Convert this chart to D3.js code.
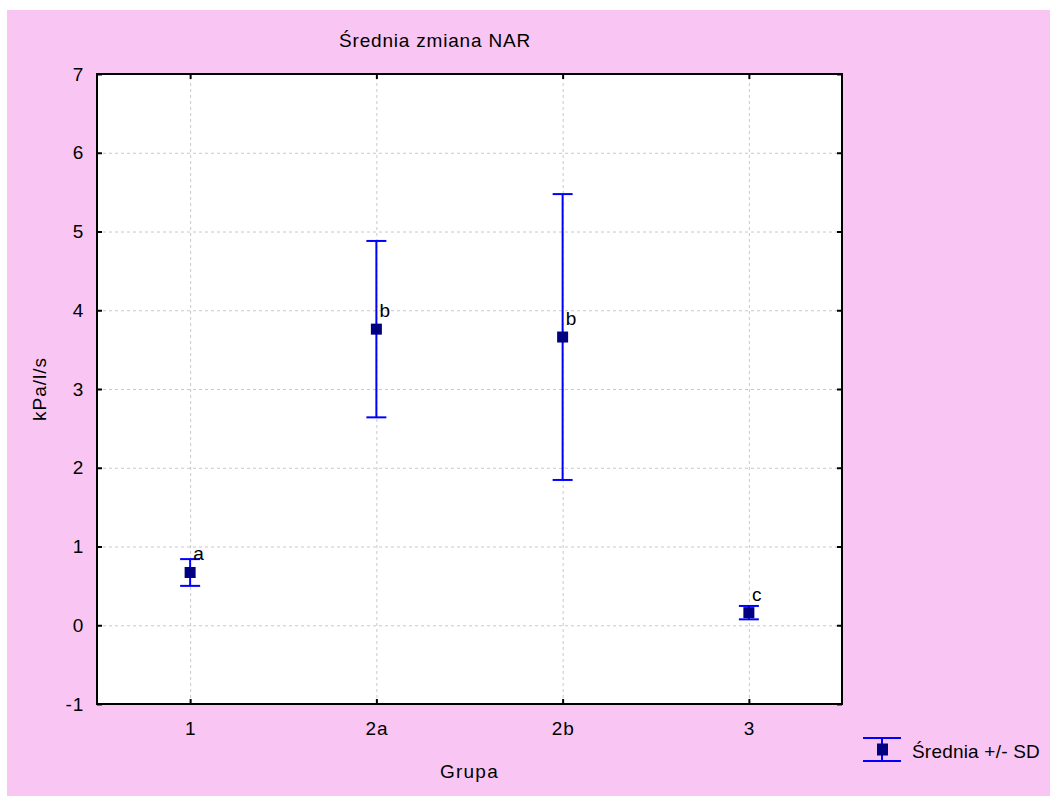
<!DOCTYPE html>
<html>
<head>
<meta charset="utf-8">
<script src="https://cdn.jsdelivr.net/npm/d3@7"></script>
<style>
  html, body { margin: 0; padding: 0; background: #ffffff; }
  svg { display: block; }
  text { font-family: "Liberation Sans", Arial, sans-serif; fill: #000; }
</style>
</head>
<body>
<svg id="chart" width="1050" height="796"></svg>
<script>
// Groups, means and standard deviations of the NAR change
const groups = ["1", "2a", "2b", "3"];
const means = [0.67, 3.76, 3.66, 0.16];
const sds = [0.17, 1.12, 1.815, 0.085];
const letters = ["a", "b", "b", "c"];
const yTicks = [-1, 0, 1, 2, 3, 4, 5, 6, 7];

const titleText = "Średnia zmiana NAR";
const xLabel = "Grupa";
const yLabel = "kPa/l/s";
const legendText = "Średnia +/- SD";

const W = 1050, H = 796;
const plot = { left: 97, top: 74, right: 842, bottom: 704 };
const FONT = 19, SPACING = "0.8px";
const bg = "#f9c6f4";
const barColor = "#0000ff";
const markColor = "#000080";
const gridColor = "#c8c8c8";

const svg = d3.select("#chart");

// Page background
svg.append("rect").attr("x", 7).attr("y", 10)
  .attr("width", W - 7).attr("height", H - 10).attr("fill", bg);

// Plot area
svg.append("rect").attr("x", plot.left).attr("y", plot.top)
  .attr("width", plot.right - plot.left).attr("height", plot.bottom - plot.top)
  .attr("fill", "#ffffff");

const x = d3.scalePoint().domain(groups).range([plot.left, plot.right]).padding(0.5);
const y = d3.scaleLinear().domain([-1, 7]).range([plot.bottom, plot.top]);

// Dashed grid
const grid = svg.append("g");
grid.append("g").attr("transform", `translate(${plot.left},0)`)
  .call(d3.axisLeft(y).tickValues(yTicks).tickSize(-(plot.right - plot.left)).tickFormat(""))
  .call(g => g.select(".domain").remove())
  .call(g => g.selectAll("line").attr("stroke", gridColor).attr("stroke-dasharray", "3,3"));
grid.append("g").attr("transform", `translate(0,${plot.bottom})`)
  .call(d3.axisBottom(x).tickSize(-(plot.bottom - plot.top)).tickFormat(""))
  .call(g => g.select(".domain").remove())
  .call(g => g.selectAll("line").attr("stroke", gridColor).attr("stroke-dasharray", "3,3"));

// Axes with inward ticks
function styleAxis(g) {
  g.select(".domain").remove();
  g.selectAll("line").attr("stroke", "#000").attr("stroke-width", 2);
  g.selectAll("text").attr("font-size", FONT).attr("letter-spacing", SPACING)
    .style("font-family", '"Liberation Sans", Arial, sans-serif').attr("fill", "#000");
}
svg.append("g").attr("transform", `translate(${plot.left},0)`)
  .call(d3.axisLeft(y).tickValues(yTicks).tickSize(-5).tickPadding(13).tickFormat(d => String(d)))
  .call(styleAxis);
svg.append("g").attr("transform", `translate(${plot.right},0)`)
  .call(d3.axisRight(y).tickValues(yTicks).tickSize(-5).tickFormat(""))
  .call(styleAxis);
svg.append("g").attr("transform", `translate(0,${plot.bottom})`)
  .call(d3.axisBottom(x).tickSize(-5).tickPadding(18))
  .call(styleAxis);
svg.append("g").attr("transform", `translate(0,${plot.top})`)
  .call(d3.axisTop(x).tickSize(-5).tickFormat(""))
  .call(styleAxis);

// Plot frame
svg.append("rect").attr("x", plot.left).attr("y", plot.top)
  .attr("width", plot.right - plot.left).attr("height", plot.bottom - plot.top)
  .attr("fill", "none").attr("stroke", "#000").attr("stroke-width", 2);

// Error bars: mean +/- SD
const rows = groups.map((g, i) => ({ g, m: means[i], s: sds[i], l: letters[i] }));
const capW = 20, mark = 11;
const eb = svg.append("g").selectAll("g").data(rows).join("g");
eb.append("line")
  .attr("x1", d => x(d.g)).attr("x2", d => x(d.g))
  .attr("y1", d => y(d.m - d.s)).attr("y2", d => y(d.m + d.s))
  .attr("stroke", barColor).attr("stroke-width", 2);
eb.append("line")
  .attr("x1", d => x(d.g) - capW / 2).attr("x2", d => x(d.g) + capW / 2)
  .attr("y1", d => y(d.m + d.s)).attr("y2", d => y(d.m + d.s))
  .attr("stroke", barColor).attr("stroke-width", 2);
eb.append("line")
  .attr("x1", d => x(d.g) - capW / 2).attr("x2", d => x(d.g) + capW / 2)
  .attr("y1", d => y(d.m - d.s)).attr("y2", d => y(d.m - d.s))
  .attr("stroke", barColor).attr("stroke-width", 2);
eb.append("rect")
  .attr("x", d => x(d.g) - mark / 2).attr("y", d => y(d.m) - mark / 2)
  .attr("width", mark).attr("height", mark).attr("fill", markColor);
eb.append("text")
  .attr("x", d => x(d.g) + 3).attr("y", d => y(d.m) - 12)
  .attr("font-size", FONT).attr("letter-spacing", SPACING)
  .text(d => d.l);

// Title and axis titles
svg.append("text").attr("x", 435).attr("y", 46.5).attr("text-anchor", "middle")
  .attr("font-size", FONT).attr("letter-spacing", "0.8px").text(titleText);
svg.append("text").attr("x", (plot.left + plot.right) / 2).attr("y", 778)
  .attr("text-anchor", "middle").attr("font-size", FONT).attr("letter-spacing", "1.2px")
  .text(xLabel);
svg.append("text")
  .attr("transform", `translate(46,${(plot.top + plot.bottom) / 2}) rotate(-90)`)
  .attr("text-anchor", "middle").attr("font-size", FONT).attr("letter-spacing", "1px")
  .text(yLabel);

// Legend
const lg = svg.append("g").attr("transform", "translate(882,749.5)");
lg.append("line").attr("x1", 0).attr("x2", 0).attr("y1", -11.5).attr("y2", 11.5)
  .attr("stroke", barColor).attr("stroke-width", 2);
lg.append("line").attr("x1", -19).attr("x2", 19).attr("y1", -11.5).attr("y2", -11.5)
  .attr("stroke", barColor).attr("stroke-width", 2);
lg.append("line").attr("x1", -19).attr("x2", 19).attr("y1", 11.5).attr("y2", 11.5)
  .attr("stroke", barColor).attr("stroke-width", 2);
lg.append("rect").attr("x", -5).attr("y", -6).attr("width", 11).attr("height", 12)
  .attr("fill", markColor);
lg.append("text").attr("x", 30).attr("y", 8.5).attr("font-size", FONT)
  .attr("letter-spacing", "0.2px").text(legendText);
</script>
</body>
</html>
